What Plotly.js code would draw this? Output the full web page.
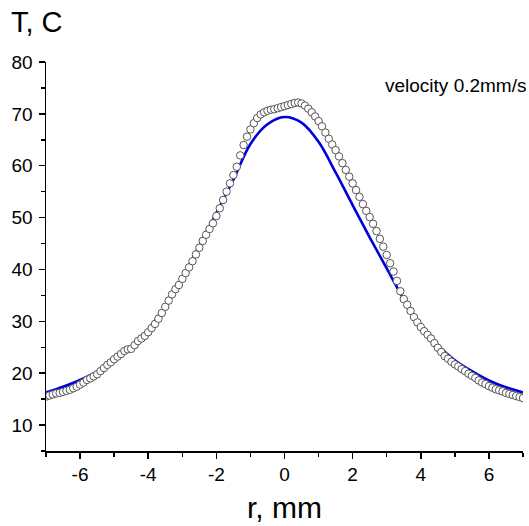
<!DOCTYPE html>
<html>
<head>
<meta charset="utf-8">
<script src="https://cdn.plot.ly/plotly-3.0.1.min.js"></script>
<style>html,body{margin:0;padding:0;background:#fff;}#chart{width:529px;height:526px;}</style>
</head>
<body>
<div id="chart"></div>
<script>
// Experimental points (open circles)
const expR = [-7.0,-6.9,-6.8,-6.7,-6.6,-6.5,-6.4,-6.3,-6.2,-6.1,-6.0,-5.9,-5.8,-5.7,-5.6,-5.5,-5.4,-5.3,-5.2,-5.1,-5.0,-4.9,-4.8,-4.7,-4.6,-4.5,-4.4,-4.3,-4.2,-4.1,-4.0,-3.9,-3.8,-3.7,-3.6,-3.5,-3.4,-3.3,-3.2,-3.1,-3.0,-2.9,-2.8,-2.7,-2.6,-2.5,-2.4,-2.3,-2.2,-2.1,-2.0,-1.9,-1.8,-1.7,-1.6,-1.5,-1.4,-1.3,-1.2,-1.1,-1.0,-0.9,-0.8,-0.7,-0.6,-0.5,-0.4,-0.3,-0.2,-0.1,0.0,0.1,0.2,0.3,0.4,0.5,0.6,0.7,0.8,0.9,1.0,1.1,1.2,1.3,1.4,1.5,1.6,1.7,1.8,1.9,2.0,2.1,2.2,2.3,2.4,2.5,2.6,2.7,2.8,2.9,3.0,3.1,3.2,3.3,3.4,3.5,3.6,3.7,3.8,3.9,4.0,4.1,4.2,4.3,4.4,4.5,4.6,4.7,4.8,4.9,5.0,5.1,5.2,5.3,5.4,5.5,5.6,5.7,5.8,5.9,6.0,6.1,6.2,6.3,6.4,6.5,6.6,6.7,6.8,6.9,7.0];
const expT = [15.5,15.7,15.9,16.1,16.2,16.4,16.6,16.8,17.1,17.4,17.8,18.2,18.7,19.0,19.4,19.8,20.4,21.0,21.6,22.1,22.7,23.2,23.7,24.3,24.6,24.7,25.4,26.2,26.7,27.2,27.9,28.7,29.5,30.5,31.6,32.8,34.0,35.2,36.2,37.0,38.2,39.3,40.4,41.6,42.9,44.2,45.5,46.7,47.8,48.9,50.3,51.8,53.4,55.0,56.6,58.2,59.8,62.0,64.0,65.6,67.0,68.2,69.2,69.9,70.3,70.6,70.8,70.9,71.1,71.3,71.5,71.7,71.9,72.1,72.2,72.0,71.6,71.0,70.3,69.5,68.6,67.6,66.4,65.2,64.1,63.0,61.8,60.5,59.2,57.9,56.6,55.3,54.0,52.6,51.3,50.1,48.8,47.4,45.9,44.4,42.8,41.2,39.6,37.8,35.8,34.3,33.2,32.0,30.8,29.8,28.9,28.1,27.4,26.7,25.8,24.9,24.1,23.3,22.8,22.2,21.7,21.3,20.8,20.4,19.9,19.5,19.1,18.6,18.2,17.9,17.5,17.2,16.9,16.7,16.5,16.2,16.0,15.8,15.6,15.4,15.2];

// Model curve (blue line)
const modR = [-7,-6.5,-6,-5.5,-5,-4.5,-4,-3.5,-3,-2.5,-2,-1.5,-1,-0.5,0,0.5,1,1.5,2,2.5,3,3.5,4,4.5,5,5.5,6,6.5,7];
const modT = [16.3,17.4,18.7,20.3,22.3,24.9,28.4,32.9,38.4,44.6,50.9,57.3,64.2,68.0,69.4,68.3,64.6,58.7,52.4,46.2,40.2,34.3,29.3,25.4,22.5,20.4,18.6,17.3,16.3];

const xTickVals = [-6,-4,-2,0,2,4,6];
const yTickVals = [10,20,30,40,50,60,70,80];
const yLabel = 'T, C';
const xLabel = 'r, mm';
const note = 'velocity 0.2mm/s';

const FONT = '"Liberation Sans", Arial, sans-serif';

const traces = [
  {x: modR, y: modT, type: 'scatter', mode: 'lines', line: {color: '#0000dd', width: 2.6, shape: 'spline', smoothing: 1}, hoverinfo: 'skip'},
  {x: expR, y: expT, type: 'scatter', mode: 'markers', marker: {symbol: 'circle', size: 7.5, color: '#ffffff', line: {color: '#555555', width: 1}}, hoverinfo: 'skip'}
];

const axisCommon = {
  showline: true, linecolor: '#000', linewidth: 1.5, mirror: false,
  showgrid: false, zeroline: false,
  ticks: 'outside', ticklen: 6, tickwidth: 1.5, tickcolor: '#000',
  tickfont: {family: FONT, size: 19, color: '#000'}
};

const layout = {
  width: 529, height: 526,
  margin: {l: 46, r: 6, t: 62, b: 75},
  paper_bgcolor: '#fff', plot_bgcolor: '#fff',
  showlegend: false,
  xaxis: Object.assign({}, axisCommon, {
    range: [-7, 7], tickmode: 'array', tickvals: xTickVals, ticktext: xTickVals.map(String),
    minor: {dtick: 1, tick0: 0, ticks: 'outside', ticklen: 4, tickwidth: 1.5, tickcolor: '#000'},
    title: {text: xLabel, font: {family: FONT, size: 30, color: '#000'}, standoff: 12}
  }),
  yaxis: Object.assign({}, axisCommon, {
    range: [5, 80], tickmode: 'array', tickvals: yTickVals, ticktext: yTickVals.map(String),
    minor: {dtick: 5, tick0: 0, ticks: 'outside', ticklen: 4, tickwidth: 1.5, tickcolor: '#000'},
    ticklabelstandoff: 2
  }),
  annotations: [
    {text: yLabel, xref: 'paper', yref: 'paper', x: 0, y: 1, xshift: -37, yshift: 58, xanchor: 'left', yanchor: 'top', showarrow: false, font: {family: FONT, size: 29, color: '#000'}},
    {text: note, xref: 'paper', yref: 'paper', x: 1, y: 1, xshift: 5, yshift: -11, xanchor: 'right', yanchor: 'top', showarrow: false, font: {family: FONT, size: 19, color: '#000'}}
  ]
};

Plotly.newPlot('chart', traces, layout, {displayModeBar: false, staticPlot: true});
</script>
</body>
</html>
